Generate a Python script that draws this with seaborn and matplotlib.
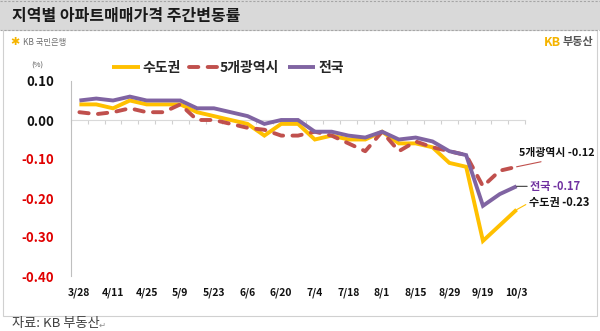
import matplotlib
matplotlib.use("Agg")
import matplotlib.pyplot as plt
import seaborn as sns
import pandas as pd
import numpy as np
from matplotlib.patches import Rectangle
from matplotlib.lines import Line2D

# ---------------- data ----------------
weeks = ['3/28', '4/4', '4/11', '4/18', '4/25', '5/2', '5/9', '5/16', '5/23', '5/30',
         '6/6', '6/13', '6/20', '6/27', '7/4', '7/11', '7/18', '7/25', '8/1', '8/8',
         '8/15', '8/22', '8/29', '9/5', '9/19', '9/26', '10/3']
capital = [0.04, 0.04, 0.03, 0.05, 0.04, 0.04, 0.04, 0.02, 0.01, 0.00,
           -0.01, -0.04, -0.01, -0.01, -0.05, -0.04, -0.05, -0.05, -0.03, -0.06,
           -0.06, -0.07, -0.11, -0.12, -0.31, -0.27, -0.23]
metro5 = [0.02, 0.015, 0.02, 0.03, 0.02, 0.02, 0.04, 0.00, 0.00, -0.01,
          -0.02, -0.025, -0.04, -0.04, -0.03, -0.04, -0.06, -0.08, -0.03, -0.08,
          -0.055, -0.07, -0.08, -0.09, -0.17, -0.13, -0.12]
nation = [0.05, 0.055, 0.05, 0.06, 0.05, 0.05, 0.05, 0.03, 0.03, 0.02,
          0.01, -0.01, 0.00, 0.00, -0.03, -0.03, -0.04, -0.045, -0.03, -0.05,
          -0.045, -0.055, -0.08, -0.09, -0.22, -0.19, -0.17]
series_names = ['수도권', '5개광역시', '전국']
series_values = [capital, metro5, nation]
y_ticks = [0.10, 0.00, -0.10, -0.20, -0.30, -0.40]
x_label_step = 2

colors = {'수도권': '#FFC000', '5개광역시': '#C0504D', '전국': '#8064A2'}

df = pd.concat([
    pd.DataFrame({'pos': np.arange(len(weeks)), 'week': weeks, 'value': vals, 'series': name})
    for name, vals in zip(series_names, series_values)
], ignore_index=True)

# ---------------- style ----------------
sns.set_style("white")
plt.rcParams['font.family'] = ['Noto Sans CJK KR', 'DejaVu Sans']

W, H = 600, 331
fig = plt.figure(figsize=(W / 100, H / 100), dpi=100)
fig.patch.set_facecolor('white')

def fx(px):
    return px / W

def fy(py):
    return 1 - py / H

# title band
fig.patches.append(Rectangle((0, fy(30)), 1, 30 / H, transform=fig.transFigure,
                             facecolor='#d9d9d9', edgecolor='none', zorder=0))
for yy in (1, 30):
    fig.add_artist(Line2D([0, 1], [fy(yy), fy(yy)], transform=fig.transFigure,
                          color='#a6a6a6', lw=0.8, ls=(0, (2, 1.5))))
# panel border
fig.patches.append(Rectangle((fx(3), fy(316)), fx(594), (316 - 30) / H, transform=fig.transFigure,
                             facecolor='none', edgecolor='#d0d0d0', lw=0.8, zorder=0))

fig.text(fx(12), fy(16), '지역별 아파트매매가격 주간변동률', fontsize=11.5, fontweight='bold',
         color='#1a1a1a', va='center', ha='left')
fig.text(fx(10), fy(42), '✱', fontsize=8, color='#F5B400', va='center', ha='left',
         family=['DejaVu Sans'])
fig.text(fx(23), fy(42), 'KB 국민은행', fontsize=6, color='#707070', va='center', ha='left')
fig.text(fx(561), fy(42), 'KB', fontsize=9, fontweight='bold', color='#F5B400', va='center', ha='right')
fig.text(fx(563), fy(42), '부동산', fontsize=8, fontweight='bold', color='#555555', va='center', ha='left')
fig.text(fx(12), fy(324), '자료: KB 부동산', fontsize=9.5, color='#404040', va='center', ha='left')
fig.text(fx(99), fy(325), '↵', fontsize=6, color='#909090', va='center', ha='left',
         family=['DejaVu Sans'])

# ---------------- axes ----------------
ax = fig.add_axes([fx(71), fy(276), fx(454), (276 - 81) / H])
ax.set_facecolor('none')

sns.lineplot(data=df, x='pos', y='value', hue='series', style='series',
             hue_order=series_names, style_order=series_names,
             palette=colors, dashes={'수도권': '', '5개광역시': (2.4, 2.4), '전국': ''},
             linewidth=2.8, legend=False, sort=False, ax=ax,
             dash_capstyle='round', solid_capstyle='butt', solid_joinstyle='miter')

ax.set_xlim(-0.5, len(weeks) - 0.5)
ax.set_ylim(-0.40, 0.10)
ax.set_xlabel('')
ax.set_ylabel('')

# y axis
ax.set_yticks(y_ticks)
ax.set_yticklabels([f'{v:.2f}' for v in y_ticks], fontsize=9.5, fontweight='bold')
for lab, v in zip(ax.get_yticklabels(), y_ticks):
    lab.set_color('#E00000' if v < 0 else '#111111')
ax.tick_params(axis='y', direction='in', length=4, width=0.8, color='#bfbfbf', pad=12)

# x axis labels at bottom
xt = list(range(0, len(weeks), x_label_step))
ax.set_xticks(xt)
ax.set_xticklabels([weeks[i] for i in xt], fontsize=7.5, fontweight='bold', color='#111111')
ax.tick_params(axis='x', length=0, pad=8)

for s in ('top', 'right', 'bottom'):
    ax.spines[s].set_visible(False)
ax.spines['left'].set_color('#bfbfbf')
ax.spines['left'].set_linewidth(0.8)

# zero line with category tick marks
zero_frac = (0 - (-0.40)) / (0.10 - (-0.40))
sec = ax.secondary_xaxis(zero_frac)
sec.set_xticks(np.arange(-0.5, len(weeks), 1.0))
sec.set_xticklabels([])
sec.tick_params(axis='x', direction='in', length=3, width=0.8, color='#d0d0d0')
for s in sec.spines.values():
    s.set_color('#d9d9d9')
    s.set_linewidth(0.8)

# legend
handles = ax.get_lines()[:3]
leg = fig.legend(handles, series_names, loc='center', bbox_to_anchor=(fx(228), fy(68)),
                 ncol=3, frameon=False, handlelength=2.0, handletextpad=0.2,
                 columnspacing=0.6, prop={'size': 10, 'weight': 'bold'})

# annotations at last point
last = len(weeks) - 1
ax.annotate(f'5개광역시 {metro5[-1]:.2f}', xy=(last, metro5[-1]), xytext=(29, 6),
            textcoords='offset points', ha='center', va='bottom', fontsize=7.8,
            fontweight='bold', color='#111111', annotation_clip=False,
            arrowprops=dict(arrowstyle='-', color='#C0504D', lw=0.8, shrinkA=0, shrinkB=0,
                            relpos=(0.5, 0)))
ax.annotate(f'전국 {nation[-1]:.2f}', xy=(last, nation[-1]), xytext=(10, 0),
            textcoords='offset points', ha='left', va='center', fontsize=8,
            fontweight='bold', color='#7030A0', annotation_clip=False,
            arrowprops=dict(arrowstyle='-', color='#222222', lw=0.7, shrinkA=0, shrinkB=0,
                            relpos=(0, 0.5)))
ax.annotate(f'수도권 {capital[-1]:.2f}', xy=(last, capital[-1]), xytext=(9, 5),
            textcoords='offset points', ha='left', va='center', fontsize=8,
            fontweight='bold', color='#111111', annotation_clip=False,
            arrowprops=dict(arrowstyle='-', color='#FFC000', lw=0.8, shrinkA=0, shrinkB=0,
                            relpos=(0, 0.5)))

fig.text(fx(37), fy(66), '(%)', fontsize=5.5, color='#555555', ha='center', va='center')

fig.savefig('out.png', dpi=100)
